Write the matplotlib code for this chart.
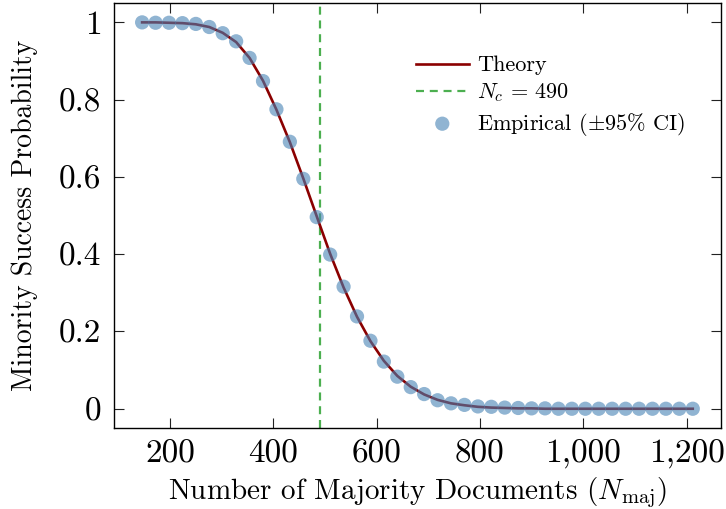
import matplotlib
matplotlib.use('Agg')
import matplotlib.pyplot as plt
from matplotlib.ticker import FuncFormatter

plt.rcParams['font.family'] = ['cmr10', 'DejaVu Serif']
plt.rcParams['mathtext.fontset'] = 'cm'
plt.rcParams['axes.unicode_minus'] = False
plt.rcParams['axes.formatter.use_mathtext'] = True

# majority document counts (sampled grid)
n_maj = [146, 172, 198, 224, 250, 276, 302, 328, 354, 380,
         406, 432, 458, 484, 510, 536, 562, 588, 614, 640,
         666, 692, 718, 744, 770, 796, 822, 848, 874, 900,
         926, 952, 978, 1004, 1030, 1056, 1082, 1108, 1134, 1160,
         1186, 1212]

# empirical minority success probability
empirical = [1.000, 0.999, 0.999, 0.998, 0.996, 0.988, 0.972, 0.951, 0.908, 0.848,
             0.775, 0.691, 0.595, 0.496, 0.399, 0.316, 0.239, 0.176, 0.122, 0.083,
             0.056, 0.038, 0.022, 0.014, 0.010, 0.006, 0.005, 0.003, 0.002, 0.001,
             0.001, 0.000, 0.000, 0.000, 0.000, 0.000, 0.000, 0.000, 0.000, 0.000,
             0.000, 0.000]

# theory curve read at the same grid
theory = [1.000, 1.000, 0.999, 0.998, 0.995, 0.988, 0.973, 0.949, 0.908, 0.849,
          0.774, 0.690, 0.596, 0.498, 0.401, 0.314, 0.238, 0.175, 0.124, 0.085,
          0.057, 0.037, 0.023, 0.014, 0.009, 0.005, 0.003, 0.002, 0.001, 0.001,
          0.000, 0.000, 0.000, 0.000, 0.000, 0.000, 0.000, 0.000, 0.000, 0.000,
          0.000, 0.000]

n_c = 490

fig = plt.figure(figsize=(7.26, 5.09), dpi=100)
ax = fig.add_axes([0.157, 0.159, 0.836, 0.835])

ax.plot(n_maj, theory, color='#8b0000', lw=1.9, label='Theory', zorder=2)
ax.axvline(n_c, color='#4caf50', lw=1.6, ls=(0, (3.6, 2.6)), label=r'$N_c\, =\, 490$', zorder=1)
ax.scatter(n_maj, empirical, s=105, color='#4682b4', alpha=0.6, edgecolors='none',
           label=r'Empirical ($\pm$95% CI)', zorder=3)

ax.set_xlim(91.5, 1266.5)
ax.set_ylim(-0.05, 1.05)
ax.set_xticks([200, 400, 600, 800, 1000, 1200])
ax.set_yticks([0, 0.2, 0.4, 0.6, 0.8, 1.0])
ax.xaxis.set_major_formatter(FuncFormatter(lambda v, p: '{:,}'.format(int(v))))
ax.yaxis.set_major_formatter(FuncFormatter(lambda v, p: '%g' % v))

ax.tick_params(direction='in', length=7, width=0.8, colors='#222222', labelcolor='black',
               labelsize=24, top=True, right=True)
ax.tick_params(axis='x', pad=8)
ax.tick_params(axis='y', pad=9)
for s in ax.spines.values():
    s.set_linewidth(1.0)

ax.set_xlabel(r'Number of Majority Documents ($N_{\mathrm{maj}}$)', fontsize=21, labelpad=5)
ax.set_ylabel('Minority Success Probability', fontsize=20, labelpad=15)

leg = ax.legend(loc='upper left', bbox_to_anchor=(0.497, 0.876), frameon=False, fontsize=16,
                borderpad=0, borderaxespad=0, handlelength=2.4, labelspacing=0.28,
                handletextpad=0.35)

fig.savefig('out.png', dpi=100)
